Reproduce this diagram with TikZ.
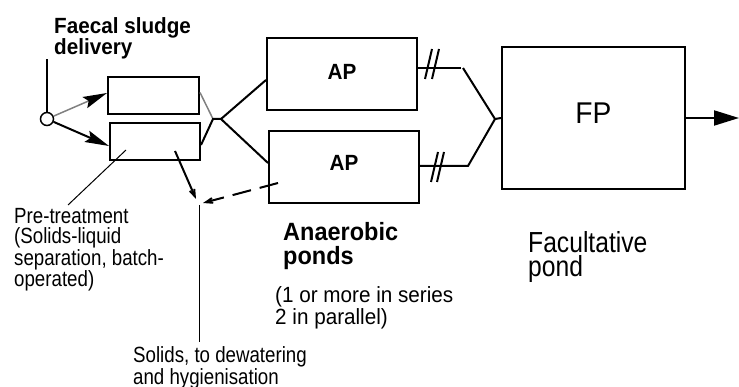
\documentclass[tikz,border=0pt]{standalone}
\usepackage{fontspec}
\setmainfont{Liberation Sans}
\newfontfamily\fcA[FakeStretch=0.85]{Liberation Sans}
\newfontfamily\fcB[FakeStretch=0.94]{Liberation Sans}
\usetikzlibrary{arrows.meta,calc}
\begin{document}
\begin{tikzpicture}[x=1pt,y=-1pt,
  box/.style={draw, line width=2pt, rectangle, inner sep=0pt},
  conn/.style={line width=2pt},
  thinline/.style={line width=1pt},
  txt/.style={inner sep=0pt, anchor=base west, align=left},
  bighead/.style={-{Stealth[length=24pt,width=12pt,inset=4pt,color=black]}},
  barb/.style={-{Stealth[length=20pt,width=14pt,inset=13pt]}},
]
\useasboundingbox (0,0) rectangle (739,387);
% boxes
\node[box, minimum width=91pt, minimum height=37pt] (pt1) at (153.5,95.5) {};
\node[box, minimum width=90pt, minimum height=37pt] (pt2) at (155,141.5) {};
\node[box, minimum width=150pt, minimum height=72pt, font=\fcB\bfseries\fontsize{22}{22}\selectfont, text depth=3.5pt] (ap1) at (342,74) {AP};
\node[box, minimum width=150pt, minimum height=72pt, font=\fcB\bfseries\fontsize{22}{22}\selectfont, text depth=8pt] (ap2) at (344,167) {AP};
\node[box, minimum width=183pt, minimum height=142pt, font=\fcB\fontsize{30}{30}\selectfont, text depth=9pt] (fp) at (593.5,118) {FP};
\node[circle, draw, line width=1.5pt, minimum size=13pt, inner sep=0pt] (c) at (47,119) {};
% coordinates
\coordinate (feedtop) at (47,59);
\coordinate (j1) at (213,119);
\coordinate (j2) at (221,119);
\coordinate (t1) at (461,68);
\coordinate (t2) at (463,68);
\coordinate (j3) at (495,119);
\coordinate (b1) at (468,166);
\coordinate (out) at (739,118);
\coordinate (ptr0) at (68,205);
\coordinate (ptr1) at (126,150);
\coordinate (s0) at (175,151);
\coordinate (s1) at (196,199);
\coordinate (d0) at (278,183);
\coordinate (d1) at (203,203);
\coordinate (v0) at (199,205);
\coordinate (v1) at (199,342);
% connectors
\draw[line width=1.5pt] (c) -- (feedtop);
\draw[line width=1.5pt, gray, bighead] (c) -- ($(pt1.west)+(0,-2.5)$);
\draw[conn, bighead] (c) -- ($(pt2.west)+(0,4.5)$);
\draw[gray, line width=1.5pt] ($(pt1.east)+(0,-3)$) -- (j1);
\draw[conn] ($(pt2.east)+(0,3.5)$) -- (j1) -- (j2);
\draw[conn] (j2) -- ($(ap1.west)+(0,6)$);
\draw[conn] (j2) -- ($(ap2.west)+(0,-4)$);
\draw[conn] ($(ap1.east)+(0,-6)$) -- (t1);
\draw[conn] (t2) -- (j3) -- (fp.west);
\draw[conn] (j3) -- (b1) -- ($(ap2.east)+(0,-1)$);
\draw[conn] (425,79) -- (432,49) (432,79) -- (439,49);
\draw[conn] (431,182) -- (438,152) (437,182) -- (444,152);
\draw[conn, -{Triangle[length=25pt,width=15pt]}] (fp.east) -- (out);
\draw[thinline] (ptr0) -- (ptr1);
\draw[conn, barb] (s0) -- (s1);
\draw[conn, barb, dash pattern=on 19pt off 9pt] (d0) -- (d1);
\draw[thinline] (v0) -- (v1);
% texts (anchor = baseline of last line)
\node[txt, font=\fcB\bfseries\fontsize{22}{21.5}\selectfont] (lbl1) at (54,55) {Faecal sludge\\delivery};
\node[txt, font=\fcA\fontsize{22}{20.3}\selectfont] (lbl2) at (14,287) {Pre-treatment\\(Solids-liquid\\separation, batch-\\operated)};
\node[txt, font=\fcA\fontsize{22}{19.5}\selectfont] (lbl3) at (133,384.5) {Solids, to dewatering\\and hygienisation};
\node[txt, font=\fcB\bfseries\fontsize{25}{24}\selectfont] (lbl4) at (283,265) {Anaerobic\\ponds};
\node[txt, font=\fcB\fontsize{22}{21}\selectfont] (lbl5) at (275,324) {(1 or more in series\\2 in parallel)};
\node[txt, font=\fcA\fontsize{29}{24}\selectfont] (lbl6) at (528,277) {Facultative\\pond};
\end{tikzpicture}
\end{document}
